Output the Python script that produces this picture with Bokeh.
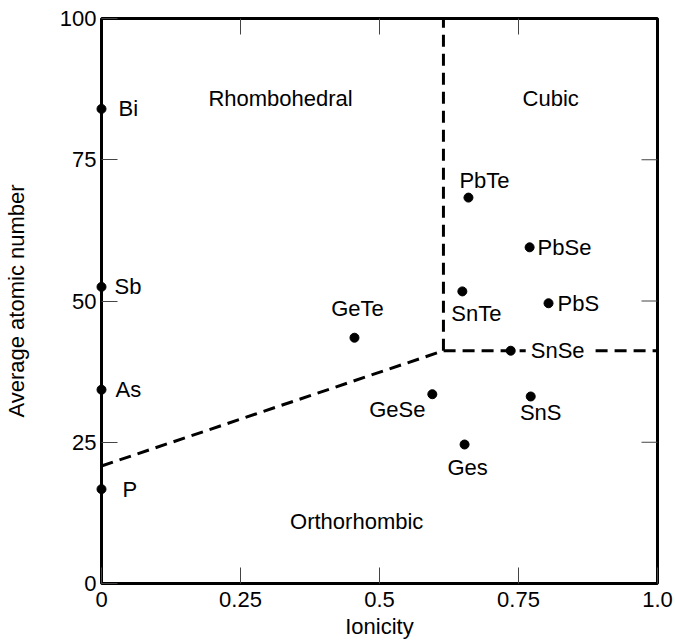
import math
from bokeh.plotting import figure
from bokeh.models import (ColumnDataSource, FixedTicker, Range1d,
                          CustomJSTickFormatter)
from bokeh.core.properties import value
from bokeh.embed import file_html
from bokeh.resources import INLINE

# ---- data ----
elements = ["Bi", "Sb", "As", "P"]
elem_x = [0.0, 0.0, 0.0, 0.0]
elem_y = [84.0, 52.5, 34.3, 16.7]

compounds = ["PbTe", "PbSe", "SnTe", "PbS", "SnSe", "GeTe", "GeSe", "Ges", "SnS"]
comp_x = [0.660, 0.770, 0.649, 0.804, 0.736, 0.455, 0.595, 0.653, 0.772]
comp_y = [68.3, 59.5, 51.7, 49.6, 41.2, 43.5, 33.5, 24.6, 33.1]

boundary_x = [0.0, 0.615, 1.0]
boundary_y = [20.8, 41.2, 41.2]
vert_x = [0.615, 0.615]
vert_y = [41.2, 100.0]

regions = ["Rhombohedral", "Cubic", "Orthorhombic"]
region_x = [0.322, 0.808, 0.459]
region_y = [85.8, 85.8, 11.0]

x_ticks = [0, 0.25, 0.5, 0.75, 1.0]
y_ticks = [0, 25, 50, 75, 100]

FONT = "Liberation Sans"
FS = "22px"

p = figure(width=675, height=642, output_backend="svg", toolbar_location=None,
           x_range=Range1d(0, 1), y_range=Range1d(0, 100),
           min_border_left=101, min_border_right=18, min_border_top=18,
           min_border_bottom=59, x_axis_label="Ionicity",
           y_axis_label="Average atomic number")
p.grid.visible = False
p.outline_line_color = "black"
p.outline_line_width = 3
p.background_fill_color = "white"
p.border_fill_color = "white"

fmt = CustomJSTickFormatter(code="return tick == 1 ? '1.0' : tick.toString();")

for ax in p.xaxis:
    ax.ticker = FixedTicker(ticks=x_ticks)
    ax.formatter = fmt
for ax in p.yaxis:
    ax.ticker = FixedTicker(ticks=y_ticks)

for ax in list(p.xaxis) + list(p.yaxis):
    ax.axis_line_color = None
    ax.major_tick_in = 16
    ax.major_tick_out = 0
    ax.minor_tick_line_color = None
    ax.major_tick_line_color = "#444444"
    ax.major_tick_line_width = 1
    ax.major_label_text_font = FONT
    ax.major_label_text_font_size = FS
    ax.major_label_text_color = "black"
    ax.axis_label_text_font = FONT
    ax.axis_label_text_font_size = FS
    ax.axis_label_text_font_style = "normal"
    ax.axis_label_text_color = "black"

p.xaxis.major_label_standoff = 8
p.xaxis.axis_label_standoff = 4
p.yaxis.major_label_standoff = 5
p.yaxis.axis_label_standoff = 28

# inside ticks on the top and right edges (half of each dash is clipped by the frame)
top_ticks = x_ticks[1:-1]
right_ticks = y_ticks[1:-1]
p.scatter(top_ticks, [y_ticks[-1]] * len(top_ticks), marker="dash", size=32,
          angle=math.pi / 2, line_color="#444444", line_width=1)
p.scatter([x_ticks[-1]] * len(right_ticks), right_ticks, marker="dash", size=32,
          line_color="#444444", line_width=1)

# boundaries
p.line(boundary_x, boundary_y, line_color="black", line_width=3, line_dash="12 7")
p.line(vert_x, vert_y, line_color="black", line_width=3, line_dash="12 7")

# points
el_pts = p.scatter(elem_x, elem_y, size=9, color="black")
el_pts.level = "overlay"
p.scatter(comp_x, comp_y, size=9, color="black")

# element labels
el_src = ColumnDataSource(dict(x=elem_x, y=elem_y, t=elements,
                               dx=[17, 13, 14, 21]))
p.text(x="x", y="y", text="t", x_offset="dx", source=el_src,
       text_font=value(FONT), text_font_size=FS, text_align="left",
       text_baseline="middle", text_color="black")

# compound labels
cp_src = ColumnDataSource(dict(
    x=comp_x, y=comp_y, t=compounds,
    dx=[16, 3, 14, 4, 15, 3, -35, 3, 10],
    dy=[-17, 0, 22, 0, 0, -29, 15, 23, 16],
    al=["center", "left", "center", "left", "left", "center", "center", "center", "center"],
    bg=["rgba(255,255,255,0)"] * 4 + ["white"] + ["rgba(255,255,255,0)"] * 4))
p.text(x="x", y="y", text="t", x_offset="dx", y_offset="dy", text_align="al",
       source=cp_src, text_font=value(FONT), text_font_size=FS,
       text_baseline="middle", text_color="black",
       background_fill_color="bg", padding=5)

# region labels
rg_src = ColumnDataSource(dict(x=region_x, y=region_y, t=regions))
p.text(x="x", y="y", text="t", source=rg_src, text_font=value(FONT),
       text_font_size=FS, text_align="center", text_baseline="middle",
       text_color="black")

open("out.html", "w").write(file_html(p, INLINE))
